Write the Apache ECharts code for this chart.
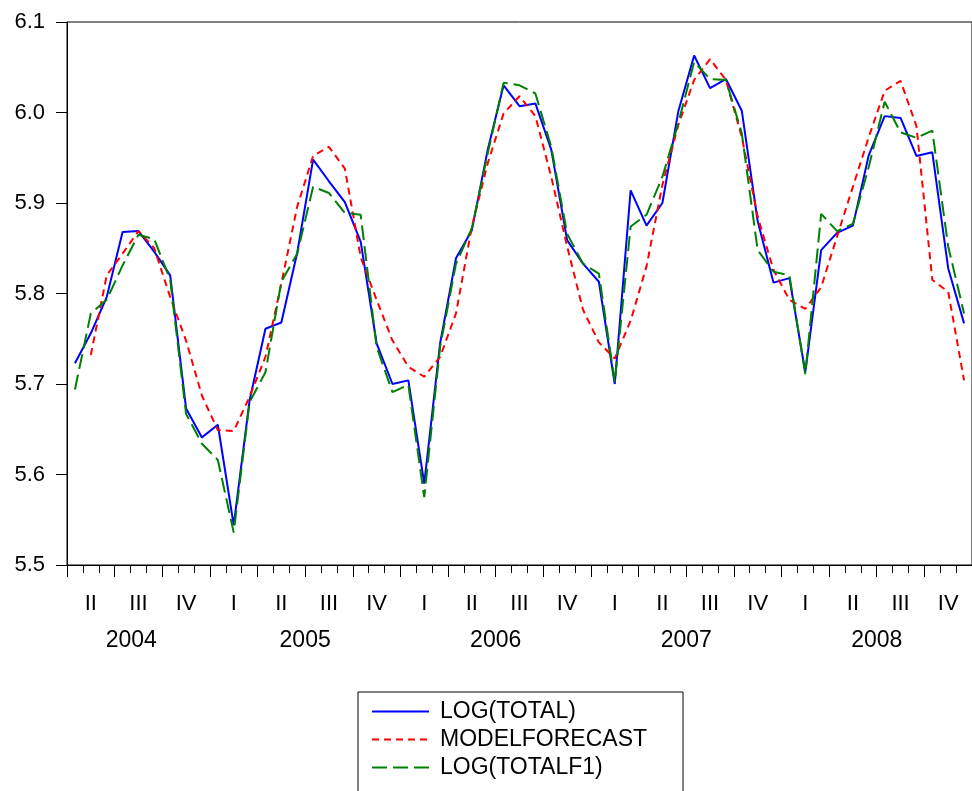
<!DOCTYPE html>
<html><head><meta charset="utf-8">
<script src="https://cdn.jsdelivr.net/npm/echarts@6/dist/echarts.min.js"></script>
<style>html,body{margin:0;padding:0;background:#fff}#c{width:972px;height:791px}</style>
</head><body><div id="c"></div>
<script>
// Monthly sample 2004M04 .. 2008M12
const startYear = 2004, startMonth = 4, nMonths = 57;
const months = [];
for (let k = 0; k < nMonths; k++) {
  const m = startMonth - 1 + k;
  months.push((startYear + Math.floor(m / 12)) + 'M' + String(m % 12 + 1).padStart(2, '0'));
}

const logTotal = [
  5.723, 5.756, 5.796, 5.868, 5.869, 5.846, 5.820, 5.673, 5.641,
  5.655, 5.544, 5.682, 5.761, 5.768, 5.845, 5.948, 5.924, 5.901, 5.857, 5.745, 5.700,
  5.704, 5.590, 5.745, 5.839, 5.870, 5.959, 6.030, 6.007, 6.010, 5.959, 5.859, 5.833,
  5.813, 5.700, 5.914, 5.875, 5.900, 6.001, 6.063, 6.027, 6.037, 6.002, 5.880, 5.812,
  5.817, 5.713, 5.848, 5.867, 5.875, 5.953, 5.996, 5.994, 5.952, 5.956, 5.828, 5.767
];
const modelForecast = [
  null, 5.732, 5.820, 5.844, 5.869, 5.850, 5.796, 5.748, 5.687,
  5.649, 5.648, 5.686, 5.730, 5.811, 5.896, 5.952, 5.962, 5.938, 5.840, 5.793, 5.748,
  5.719, 5.708, 5.730, 5.778, 5.874, 5.944, 5.999, 6.018, 5.996, 5.929, 5.852, 5.782,
  5.746, 5.728, 5.770, 5.830, 5.920, 5.986, 6.036, 6.059, 6.036, 5.973, 5.885, 5.826,
  5.793, 5.783, 5.807, 5.863, 5.918, 5.973, 6.024, 6.035, 5.985, 5.815, 5.802, 5.704
];
const logTotalF1 = [
  5.694, 5.778, 5.793, 5.831, 5.865, 5.860, 5.815, 5.667, 5.634,
  5.616, 5.536, 5.680, 5.713, 5.813, 5.844, 5.918, 5.911, 5.889, 5.887, 5.741, 5.691,
  5.699, 5.575, 5.741, 5.833, 5.872, 5.955, 6.033, 6.030, 6.021, 5.962, 5.866, 5.833,
  5.822, 5.702, 5.874, 5.887, 5.929, 5.988, 6.056, 6.037, 6.036, 5.977, 5.848, 5.824,
  5.820, 5.711, 5.888, 5.869, 5.877, 5.940, 6.012, 5.978, 5.972, 5.980, 5.852, 5.778
];
const quarterLabels = ['II','III','IV',
  'I','II','III','IV', 'I','II','III','IV', 'I','II','III','IV', 'I','II','III','IV'];
const yearLabels = ['2004','2005','2006','2007','2008'];
const seriesNames = ['LOG(TOTAL)', 'MODELFORECAST', 'LOG(TOTALF1)'];

// year label positions: centre of each year's visible span (in months)
const yearCenters = yearLabels.map(y => {
  const s = Math.max(0, (+y - startYear) * 12 - (startMonth - 1));
  const e = Math.min(nMonths, s === 0 ? 12 - (startMonth - 1) : s + 12);
  return (s + e) / 2 - (s === 0 ? 0.45 : 0);
});

const FONT = '"Liberation Sans", Arial, sans-serif';
const monthW = 15.94;
const chart = echarts.init(document.getElementById('c'), null, {renderer: 'canvas'});
const gridW = nMonths * monthW;

chart.setOption({
  animation: false,
  backgroundColor: '#fff',
  textStyle: {fontFamily: FONT, color: '#000'},
  grid: {left: 67, top: 22, width: gridW, height: 543, show: true,
         borderColor: '#000', borderWidth: 1, backgroundColor: 'transparent'},
  legend: {
    orient: 'vertical', left: 358, top: 692, height: 200,
    data: seriesNames,
    itemWidth: 57, itemHeight: 14, itemGap: 5,
    padding: [8, 36, 14, 13],
    borderColor: '#000', borderWidth: 1,
    itemStyle: {color: 'rgba(0,0,0,0)', borderColor: 'rgba(0,0,0,0)', borderWidth: 0, opacity: 0},
    textStyle: {fontFamily: FONT, fontSize: 23, color: '#000', padding: [0, 0, 0, 6]},
    selectedMode: false
  },
  xAxis: [
    { // data axis, monthly ticks
      type: 'category', data: months, boundaryGap: true, position: 'bottom',
      axisLine: {show: true, lineStyle: {color: '#000', width: 1}},
      axisTick: {show: true, interval: 0, length: 8, lineStyle: {color: '#000'}},
      axisLabel: {show: false}, splitLine: {show: false}
    },
    { // quarter boundaries (long ticks)
      type: 'value', min: 0, max: nMonths, interval: 3, position: 'bottom',
      axisLine: {show: false},
      axisTick: {show: true, length: 12, lineStyle: {color: '#000'}},
      axisLabel: {show: false}, splitLine: {show: false}
    },
    { // quarter labels
      type: 'category', data: quarterLabels, boundaryGap: true, position: 'bottom',
      axisLine: {show: false}, axisTick: {show: false}, splitLine: {show: false},
      axisLabel: {show: true, interval: 0, margin: 28, fontSize: 22, color: '#000', fontFamily: FONT}
    },
    { // year labels
      type: 'value', min: 0, max: nMonths, position: 'bottom',
      axisLine: {show: false}, axisTick: {show: false}, splitLine: {show: false},
      axisLabel: {show: true, margin: 64, fontSize: 23, color: '#000', fontFamily: FONT,
        customValues: yearCenters,
        formatter: v => {
          const k = yearCenters.findIndex(c => Math.abs(c - v) < 1e-6);
          return k >= 0 ? yearLabels[k] : '';
        }}
    }
  ],
  yAxis: {
    type: 'value', min: 5.5, max: 6.1, interval: 0.1,
    axisLine: {show: true, lineStyle: {color: '#000', width: 1}},
    axisTick: {show: true, length: 11, lineStyle: {color: '#000'}},
    axisLabel: {margin: 22, fontSize: 22, color: '#000', fontFamily: FONT,
      formatter: v => v.toFixed(1)},
    splitLine: {show: false}
  },
  series: [
    {name: seriesNames[0], type: 'line', data: logTotal, symbol: 'none',
     lineStyle: {color: '#0000ff', width: 2}, itemStyle: {color: '#0000ff'}},
    {name: seriesNames[1], type: 'line', data: modelForecast, symbol: 'none',
     lineStyle: {color: '#ff0000', width: 2, type: [7, 5]}, itemStyle: {color: '#ff0000'}},
    {name: seriesNames[2], type: 'line', data: logTotalF1, symbol: 'none',
     lineStyle: {color: '#008000', width: 2, type: [15, 6]}, itemStyle: {color: '#008000'}}
  ]
});
</script>
</body></html>
